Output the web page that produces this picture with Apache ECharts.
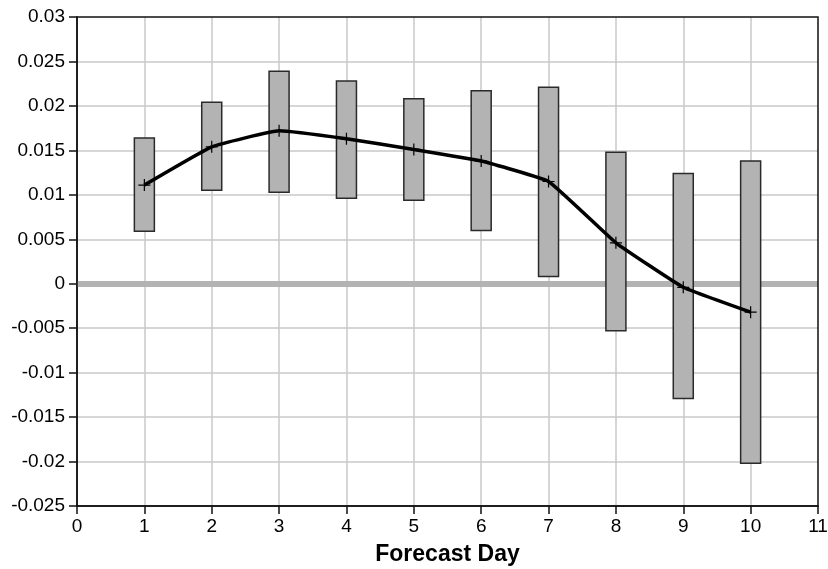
<!DOCTYPE html>
<html>
<head>
<meta charset="utf-8">
<script src="https://cdn.jsdelivr.net/npm/echarts@6/dist/echarts.min.js"></script>
<style>html,body{margin:0;padding:0;background:#fff;overflow:hidden}#c{width:828px;height:569px}</style>
</head>
<body>
<div id="c"></div>
<script>
const days = [1, 2, 3, 4, 5, 6, 7, 8, 9, 10];
const boxTop = [0.0164, 0.0204, 0.0239, 0.0228, 0.0208, 0.0217, 0.0221, 0.0148, 0.0124, 0.0138];
const boxBottom = [0.0059, 0.0105, 0.0103, 0.0096, 0.0094, 0.0060, 0.0008, -0.0053, -0.0129, -0.0202];
const meanValues = [0.0111, 0.0154, 0.0172, 0.0163, 0.0151, 0.0138, 0.0115, 0.0046, -0.0004, -0.0032];
const xTicks = [0, 11, 1];
const yTicks = [-0.025, 0.03, 0.005];

const FONT = "'Liberation Sans', Arial, sans-serif";
const chart = echarts.init(document.getElementById('c'));
const fmt = v => String(parseFloat(v.toFixed(4)));

chart.setOption({
  animation: false,
  backgroundColor: '#fff',
  grid: { left: 77, right: 10, top: 17, bottom: 63, containLabel: false, outerBoundsMode: 'none', show: true, borderColor: '#111', borderWidth: 1.5, z: 10 },
  xAxis: {
    type: 'value', min: xTicks[0], max: xTicks[1], interval: xTicks[2],
    name: 'Forecast Day', nameLocation: 'middle', nameGap: 37,
    nameTextStyle: { fontFamily: FONT, fontSize: 23, fontWeight: 'bold', color: '#000' },
    axisLine: { onZero: false, lineStyle: { color: '#111', width: 1.5 } },
    axisTick: { show: true, length: 8, lineStyle: { color: '#111', width: 1.5 } },
    axisLabel: { fontFamily: FONT, fontSize: 19, color: '#000', margin: 11 },
    splitLine: { show: true, showMinLine: false, showMaxLine: false, lineStyle: { color: '#c8c8c8', width: 1.5 } }
  },
  yAxis: {
    type: 'value', min: yTicks[0], max: yTicks[1], interval: yTicks[2],
    axisLine: { show: true, onZero: false, lineStyle: { color: '#111', width: 1.5 } },
    axisTick: { show: true, length: 8, lineStyle: { color: '#111', width: 1.5 } },
    axisLabel: { fontFamily: FONT, fontSize: 19, color: '#000', margin: 12, formatter: fmt },
    splitLine: { show: true, showMinLine: false, showMaxLine: false, lineStyle: { color: '#c8c8c8', width: 1.5 } }
  },
  series: [
    {
      type: 'custom',
      z: 3,
      data: days.map((d, i) => [d, boxBottom[i], boxTop[i]]),
      encode: { x: 0, y: [1, 2] },
      renderItem: function (params, api) {
        const x = api.value(0);
        const lo = api.coord([x, api.value(1)]);
        const hi = api.coord([x, api.value(2)]);
        const w = 20;
        return {
          type: 'rect',
          shape: { x: lo[0] - w / 2, y: hi[1], width: w, height: lo[1] - hi[1] },
          style: { fill: '#b3b3b3', stroke: '#2a2a2a', lineWidth: 1.5 }
        };
      },
      markLine: {
        silent: true, symbol: 'none', z: 1,
        label: { show: false },
        lineStyle: { color: '#b3b3b3', width: 6, type: 'solid' },
        data: [{ yAxis: 0 }]
      }
    },
    {
      type: 'line',
      z: 5,
      data: days.map((d, i) => [d, meanValues[i]]),
      smooth: 0.1,
      lineStyle: { color: '#000', width: 3.5 },
      symbol: 'path://M0,-1L0,1M-1,0L1,0',
      symbolSize: 12,
      itemStyle: { color: '#000', borderColor: '#000', borderWidth: 1.2 }
    }
  ]
});
</script>
</body>
</html>
